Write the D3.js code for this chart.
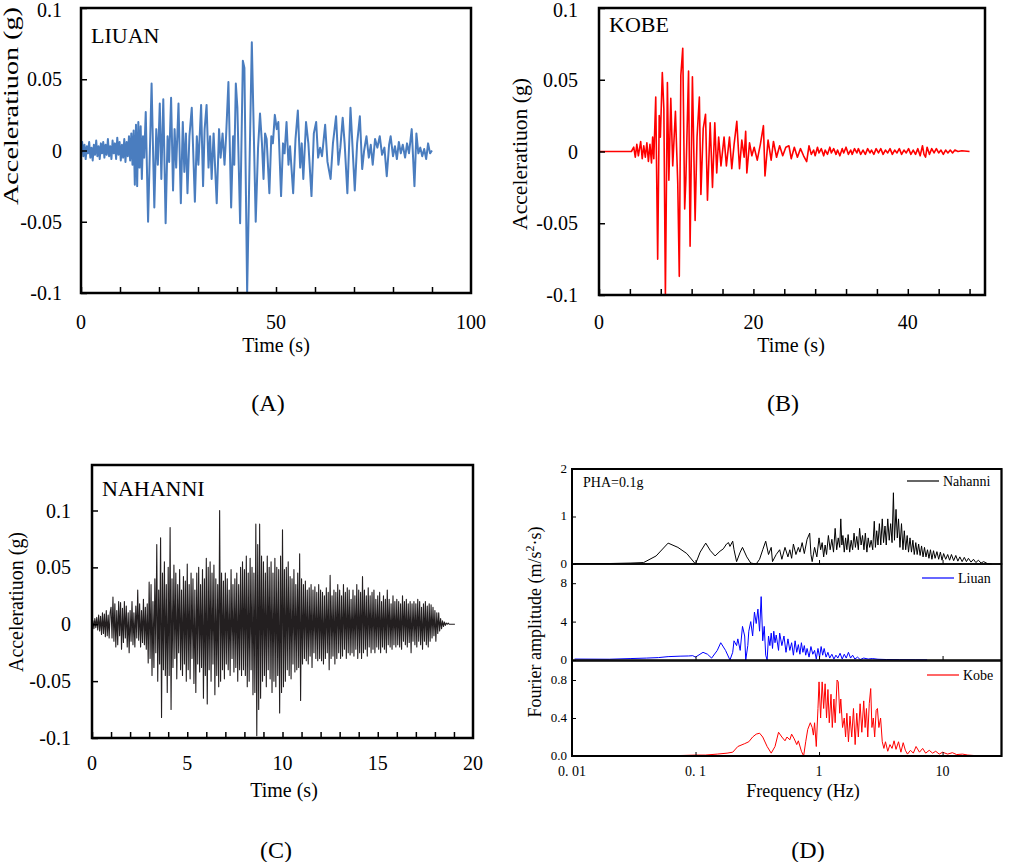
<!DOCTYPE html>
<html>
<head>
<meta charset="utf-8">
<script src="https://cdn.jsdelivr.net/npm/d3@7"></script>
<style>
	body { margin: 0; background: #fff; }
	svg { display: block; font-family: 'Liberation Serif', 'Times New Roman', serif; }
</style>
</head>
<body>
<div id="chart"></div>
<script>
//	Liuan record: [time (s), acceleration (g)] turning points
const liuanRecord = [
	[0,0],[0.3,0.006],[0.6,-0.004],[0.9,0.004],[1.2,-0.006],[1.5,0.003],[1.8,-0.002],[2.1,0.006],[2.4,-0.005],[2.7,0.002],
	[3.0,-0.007],[3.3,0.004],[3.6,-0.003],[3.9,0.007],[4.2,-0.004],[4.5,0.003],[4.8,-0.006],[5.1,0.005],[5.4,-0.002],[5.7,0.006],
	[6.0,-0.005],[6.3,0.004],[6.6,-0.003],[6.9,0.008],[7.2,-0.004],[7.5,0.003],[7.8,-0.006],[8.1,0.007],[8.4,-0.002],[8.7,0.005],
	[9.0,-0.006],[9.3,0.009],[9.6,-0.003],[9.9,0.006],[10.2,-0.007],[10.5,0.004],[10.8,-0.005],[11.1,0.008],[11.4,-0.008],[11.7,0.006],
	[12.0,-0.004],[12.3,0.010],[12.6,-0.007],[12.9,0.012],[13.2,-0.010],[13.5,0.014],[13.8,-0.024],[14.1,0.018],[14.4,-0.025],[14.7,0.020],
	[15.0,-0.012],[15.3,0.017],[15.6,-0.020],[15.9,0.010],[16.2,-0.005],[16.6,0.027],[17.2,-0.050],[18.1,0.047],[18.8,-0.040],[19.3,0.015],
	[19.7,-0.010],[20.2,0.033],[20.6,-0.020],[21.1,0.036],[21.7,-0.051],[22.2,0.010],[22.6,-0.008],[23.1,0.037],[23.6,-0.028],[24.0,0.015],
	[24.4,-0.012],[25.0,0.033],[25.6,-0.037],[26.1,0.020],[26.5,-0.015],[26.9,0.012],[27.3,-0.030],[27.8,0.010],[28.4,0.030],[29.2,-0.036],
	[29.7,0.010],[30.1,-0.010],[30.8,0.032],[31.3,-0.025],[31.7,0.015],[32.2,0.032],[32.7,-0.012],[33.1,0.010],[33.5,-0.020],[34.0,0.012],
	[34.8,-0.037],[35.4,0.015],[35.8,-0.005],[36.3,0.012],[36.8,-0.010],[37.2,0.010],[37.8,0.048],[38.5,-0.040],[39.0,0.010],[39.3,-0.010],
	[39.7,0.047],[40.1,0.030],[40.8,-0.051],[41.5,0.063],[41.9,0.058],[42.6,-0.100],[43.8,0.076],[44.8,-0.050],[45.4,0.002],[45.9,0.026],
	[46.4,0.005],[46.8,-0.020],[47.2,0.012],[47.6,0.008],[48.3,-0.030],[48.8,0.010],[49.2,0.005],[49.7,0.025],[50.2,0.015],[50.6,0.020],
	[51.3,-0.032],[51.8,0.005],[52.2,-0.002],[52.7,0.020],[53.2,-0.010],[53.6,0.003],[54.4,-0.030],[55.0,0.008],[55.6,0.028],[56.2,-0.012],
	[56.6,0.005],[57.0,-0.020],[57.7,0.020],[58.3,0.005],[59.1,-0.032],[59.7,0.012],[60.3,0.020],[60.8,-0.005],[61.3,0.002],[61.8,-0.004],
	[62.6,0.018],[63.2,-0.008],[64.0,-0.020],[64.6,0.005],[65.4,0.024],[66.0,-0.010],[66.5,0.002],[67.1,0.023],[67.6,0.005],[68.3,-0.030],
	[69.1,0.030],[70.2,-0.028],[70.8,0.005],[71.5,0.024],[72.1,-0.013],[72.6,0.000],[73.2,0.010],[73.8,-0.005],[74.3,0.004],[74.8,-0.010],
	[75.4,0.008],[76.0,0.002],[76.6,0.010],[77.2,-0.003],[77.8,0.002],[78.4,-0.018],[79.0,0.004],[79.4,0.010],[80.0,-0.004],[80.5,0.003],
	[81.0,-0.006],[81.5,0.006],[82.0,-0.002],[82.5,0.004],[83.1,-0.005],[83.6,0.005],[84.1,-0.002],[84.8,0.015],[85.5,-0.025],[86.0,0.012],
	[86.5,-0.002],[87.0,0.002],[87.5,-0.004],[88.0,0.001],[88.5,-0.006],[89.0,0.005],[89.5,-0.002],[90.0,0.000]
];

//	Kobe record: [time (s), acceleration (g)] turning points
const kobeRecord = [
	[0,0],[4.2,0],[4.5,0.003],[4.7,-0.004],[4.9,0.005],[5.1,-0.003],[5.4,0.007],[5.6,-0.005],[5.8,0.004],[6.0,-0.004],
	[6.2,0.006],[6.4,-0.007],[6.6,0.005],[6.8,-0.008],[6.95,0.010],[7.1,-0.005],[7.35,0.038],[7.6,-0.075],[7.8,0.025],[7.95,0.010],
	[8.2,0.055],[8.4,0.030],[8.6,-0.100],[8.86,0.048],[9.05,-0.020],[9.3,0.037],[9.55,-0.010],[9.9,0.028],[10.2,-0.022],[10.4,-0.087],
	[10.6,0.053],[10.85,0.072],[11.1,-0.040],[11.25,-0.020],[11.6,0.056],[11.8,-0.066],[12.1,0.052],[12.45,-0.048],[12.7,0.010],[13.0,0.038],
	[13.2,-0.030],[13.5,0.016],[13.8,0.026],[14.05,-0.034],[14.4,0.020],[14.7,-0.025],[15.0,0.020],[15.25,-0.015],[15.5,0.010],[15.8,-0.010],
	[16.2,0.010],[16.5,-0.010],[16.9,0.010],[17.2,-0.012],[17.5,0.005],[17.85,0.021],[18.2,-0.012],[18.5,0.008],[18.8,-0.004],[19.0,0.014],
	[19.15,-0.015],[19.5,0.006],[19.8,-0.003],[20.1,0.003],[20.5,-0.006],[20.9,0.005],[21.3,0.018],[21.5,-0.017],[21.9,0.008],[22.3,-0.006],
	[22.6,0.007],[23.0,-0.004],[23.4,0.004],[23.8,-0.003],[24.2,0.003],[24.6,0.004],[24.9,-0.005],[25.3,0.003],[25.7,-0.004],[26.1,0.002],
	[26.5,-0.003],[26.9,-0.007],[27.2,0.004],[27.5,-0.002],[27.8,0.001],[28.0,-0.003],[28.3,0.003],[28.5,-0.001],[28.8,0.002],[29.1,-0.003],
	[29.3,0.001],[29.6,-0.002],[29.9,0.003],[30.1,-0.001],[30.4,0.002],[30.7,-0.002],[30.9,0.001],[31.2,-0.003],[31.5,0.002],[31.7,-0.001],
	[32.0,0.003],[32.3,-0.002],[32.6,0.001],[32.8,-0.002],[33.1,0.002],[33.4,-0.001],[33.6,0.002],[33.9,-0.002],[34.2,0.001],[34.5,-0.002],
	[34.8,0.002],[35.1,-0.001],[35.3,0.001],[35.6,-0.002],[35.9,0.002],[36.2,-0.001],[36.5,0.002],[36.8,-0.002],[37.1,0.001],[37.4,-0.001],
	[37.7,0.002],[38.0,-0.002],[38.3,0.001],[38.6,-0.001],[38.9,0.002],[39.2,-0.002],[39.5,0.001],[39.8,-0.001],[40.1,0.002],[40.4,-0.002],
	[40.7,0.001],[41.0,-0.002],[41.3,0.002],[41.6,-0.003],[41.9,0.004],[42.1,-0.002],[42.3,-0.004],[42.5,0.003],[42.8,-0.002],[43.1,0.002],
	[43.4,-0.001],[43.7,0.002],[44.0,-0.001],[44.3,0.001],[44.6,-0.002],[44.9,0.001],[45.2,-0.001],[45.5,0.001],[45.8,-0.001],[46.1,0.001],
	[46.5,0],[47.0,0.0005],[48.0,0]
];

//	Nahanni record: acceleration (g) sampled every 0.05 s, one row per second
const nahanniStep = 0.05;
const nahanniAcc = [
	0,0.003,-0.004,0.005,-0.003,0.006,-0.005,0.008,-0.006,0.007,-0.009,0.010,-0.008,0.009,-0.011,0.012,-0.010,0.008,-0.012,0.010,
	0.015,-0.012,0.024,-0.015,0.018,-0.020,0.012,-0.018,0.020,-0.010,0.019,-0.022,0.014,-0.016,0.020,-0.012,0.016,-0.020,0.010,-0.025,
	0.012,-0.015,0.020,-0.018,0.010,-0.020,0.016,-0.012,0.030,-0.014,0.018,-0.020,0.012,-0.016,0.022,-0.018,0.015,-0.022,0.018,-0.034,
	0.037,-0.030,0.035,-0.045,0.020,-0.038,0.040,-0.025,0.070,-0.050,0.030,-0.035,0.076,-0.082,0.045,-0.040,0.055,-0.045,0.035,-0.060,
	0.050,-0.045,0.085,-0.075,0.040,-0.038,0.052,-0.030,0.045,-0.048,0.035,-0.025,0.048,-0.040,0.030,-0.045,0.042,-0.035,0.038,-0.050,
	0.053,-0.040,0.035,-0.048,0.045,-0.030,0.040,-0.052,0.030,-0.060,0.045,-0.035,0.050,-0.042,0.035,-0.038,0.048,-0.065,0.040,-0.045,
	0.058,-0.070,0.050,-0.040,0.055,-0.050,0.045,-0.035,0.052,-0.062,0.040,-0.045,0.035,-0.055,0.100,-0.050,0.045,-0.040,0.038,-0.048,
	0.045,-0.035,0.040,-0.040,0.030,-0.045,0.048,-0.030,0.035,-0.042,0.040,-0.038,0.045,-0.050,0.035,-0.040,0.050,-0.045,0.055,-0.040,
	0.048,-0.045,0.060,-0.055,0.045,-0.050,0.058,-0.040,0.050,-0.062,0.045,-0.060,0.088,-0.098,0.070,-0.075,0.088,-0.065,0.060,-0.050,
	0.055,-0.045,0.045,-0.055,0.060,-0.040,0.050,-0.048,0.055,-0.060,0.045,-0.050,0.058,-0.055,0.050,-0.045,0.048,-0.078,0.060,-0.060,
	0.083,-0.055,0.048,-0.050,0.050,-0.040,0.055,-0.045,0.042,-0.048,0.040,-0.035,0.048,-0.042,0.035,-0.040,0.045,-0.038,0.062,-0.067,
	0.040,-0.035,0.035,-0.030,0.038,-0.032,0.030,-0.035,0.032,-0.028,0.035,-0.038,0.030,-0.025,0.033,-0.030,0.028,-0.032,0.035,-0.030,
	0.030,-0.032,0.028,-0.035,0.025,-0.030,0.032,-0.025,0.028,-0.040,0.043,-0.030,0.025,-0.028,0.030,-0.035,0.028,-0.030,0.035,-0.025,
	0.030,-0.030,0.025,-0.028,0.035,-0.022,0.028,-0.030,0.032,-0.025,0.030,-0.027,0.022,-0.025,0.030,-0.028,0.025,-0.022,0.035,-0.030,
	0.030,-0.025,0.028,-0.030,0.042,-0.025,0.030,-0.022,0.025,-0.028,0.032,-0.020,0.025,-0.025,0.028,-0.022,0.030,-0.025,0.022,-0.020,
	0.025,-0.022,0.028,-0.025,0.020,-0.020,0.025,-0.022,0.022,-0.025,0.030,-0.018,0.022,-0.020,0.018,-0.022,0.025,-0.018,0.020,-0.020,
	0.022,-0.018,0.020,-0.020,0.018,-0.022,0.025,-0.015,0.020,-0.018,0.022,-0.020,0.018,-0.016,0.020,-0.025,0.018,-0.015,0.020,-0.018,
	0.018,-0.020,0.022,-0.015,0.020,-0.018,0.015,-0.022,0.018,-0.015,0.020,-0.018,0.016,-0.020,0.018,-0.015,0.017,-0.012,0.015,-0.010,
	0.012,-0.015,0.010,-0.008,0.010,-0.006,0.005,-0.004,0.003,-0.002,0.002,-0.001,0.001,0,0.001,0,0,0,0,0,
	0,0
];

//	Fourier spectra: [frequency (Hz), amplitude (m/s2·s)]
const nahanniSpectrum = [
	[0.0105,0.01],[0.02,0.01],[0.03,0.02],[0.038,0.03],[0.048,0.17],[0.060,0.44],[0.072,0.35],[0.085,0.22],[0.1,0.0],[0.109,0.25],
	[0.121,0.44],[0.132,0.28],[0.144,0.17],[0.158,0.27],[0.168,0.32],[0.178,0.42],[0.185,0.45],[0.19,0.37],[0.2,0.48],[0.205,0.30],
	[0.215,0.05],[0.23,0.25],[0.24,0.35],[0.26,0.15],[0.28,0.02],[0.31,0.0],[0.33,0.1],[0.35,0.3],[0.37,0.48],[0.39,0.2],
	[0.41,0.35],[0.42,0.05],[0.45,0.2],[0.48,0.3],[0.5,0.1],[0.53,0.35],[0.56,0.15],[0.58,0.3],[0.6,0.12],[0.62,0.42],
	[0.65,0.2],[0.68,0.35],[0.7,0.25],[0.73,0.45],[0.76,0.22],[0.8,0.52],[0.84,0.65],[0.86,0.2],[0.88,0.05],[0.92,0.35],
	[0.96,0.15],[1.0,0.55],[1.03,0.3],[1.06,0.45],[1.09,0.15],[1.12,0.4],[1.15,0.2],[1.19,0.6],[1.23,0.3],[1.27,0.52],
	[1.31,0.25],[1.35,0.75],[1.39,0.3],[1.43,0.55],[1.47,0.35],[1.5,0.95],[1.53,0.4],[1.56,0.6],[1.6,0.25],[1.64,0.55],
	[1.68,0.3],[1.72,0.62],[1.77,0.25],[1.82,0.5],[1.87,0.3],[1.92,0.65],[1.97,0.35],[2.02,0.58],[2.08,0.3],[2.13,0.75],
	[2.19,0.4],[2.25,0.6],[2.31,0.3],[2.37,0.65],[2.44,0.25],[2.5,0.55],[2.57,0.35],[2.64,0.5],[2.72,0.3],[2.8,0.9],
	[2.86,0.35],[2.93,0.7],[3.0,0.4],[3.08,0.85],[3.16,0.4],[3.25,0.95],[3.33,0.45],[3.42,0.8],[3.5,0.4],[3.6,0.95],
	[3.7,0.5],[3.8,0.85],[3.9,0.45],[4.0,1.5],[4.08,0.5],[4.2,1.15],[4.3,0.55],[4.4,0.95],[4.52,0.35],[4.65,0.85],
	[4.78,0.3],[4.9,0.7],[5.03,0.3],[5.17,0.6],[5.3,0.25],[5.45,0.55],[5.6,0.25],[5.75,0.5],[5.9,0.2],[6.07,0.45],
	[6.23,0.2],[6.4,0.42],[6.58,0.18],[6.76,0.38],[6.95,0.15],[7.14,0.35],[7.34,0.15],[7.55,0.3],[7.76,0.12],[7.98,0.3],
	[8.2,0.1],[8.45,0.28],[8.7,0.12],[9.0,0.26],[9.3,0.1],[9.6,0.25],[9.9,0.08],[10.2,0.22],[10.6,0.1],[11.0,0.2],
	[11.4,0.08],[11.8,0.2],[12.3,0.07],[12.8,0.18],[13.3,0.06],[13.8,0.15],[14.4,0.05],[15.0,0.14],[15.6,0.05],[16.2,0.12],
	[17.0,0.04],[17.8,0.1],[18.6,0.03],[19.5,0.08],[20.5,0.02],[21.5,0.05],[23,0.01],[25,0.0]
];

const liuanSpectrum = [
	[0.0105,0.1],[0.02,0.08],[0.03,0.15],[0.04,0.2],[0.05,0.25],[0.06,0.35],[0.075,0.4],[0.088,0.42],[0.095,0.45],[0.1,0.3],
	[0.115,0.8],[0.125,0.6],[0.135,0.2],[0.15,1.0],[0.16,1.8],[0.175,1.0],[0.19,0.0],[0.2,0.8],[0.205,2.0],[0.215,1.5],
	[0.22,2.2],[0.23,1.0],[0.24,3.5],[0.25,2.5],[0.255,0.0],[0.265,1.5],[0.27,3.0],[0.28,4.0],[0.29,2.5],[0.3,5.0],
	[0.31,3.8],[0.32,5.3],[0.33,3.0],[0.34,6.6],[0.35,2.0],[0.36,3.5],[0.37,0.5],[0.38,0.0],[0.39,2.5],[0.40,1.5],
	[0.41,2.8],[0.42,1.2],[0.43,3.0],[0.44,1.8],[0.45,2.6],[0.47,1.0],[0.48,2.8],[0.5,1.5],[0.52,2.5],[0.54,0.8],
	[0.56,2.2],[0.58,1.0],[0.6,1.8],[0.62,0.5],[0.64,2.0],[0.66,0.8],[0.68,1.6],[0.7,0.6],[0.72,1.8],[0.74,0.8],
	[0.76,1.5],[0.78,0.5],[0.8,1.2],[0.83,0.3],[0.86,1.4],[0.89,0.6],[0.92,1.0],[0.95,0.1],[0.98,1.2],[1.01,0.3],
	[1.04,1.4],[1.07,0.5],[1.1,1.2],[1.14,0.3],[1.18,0.8],[1.22,0.2],[1.27,0.6],[1.32,0.1],[1.37,0.5],[1.42,0.2],
	[1.48,0.7],[1.54,0.1],[1.6,0.6],[1.66,0.2],[1.73,0.8],[1.8,0.2],[1.87,0.5],[1.95,0.1],[2.05,0.3],[2.15,0.05],
	[2.3,0.2],[2.5,0.1],[2.7,0.15],[3.0,0.08],[3.5,0.05],[4.5,0.03],[6,0.02],[7.5,0.01]
];

const kobeSpectrum = [
	[0.0105,0.0],[0.06,0.002],[0.08,0.006],[0.1,0.01],[0.12,0.01],[0.15,0.02],[0.18,0.03],[0.2,0.04],[0.22,0.1],[0.25,0.13],
	[0.27,0.15],[0.29,0.2],[0.31,0.23],[0.33,0.24],[0.35,0.2],[0.38,0.1],[0.41,0.03],[0.44,0.1],[0.47,0.25],[0.5,0.2],
	[0.53,0.16],[0.55,0.2],[0.58,0.17],[0.6,0.23],[0.63,0.18],[0.66,0.12],[0.68,0.16],[0.72,0.05],[0.75,0.0],[0.78,0.15],
	[0.81,0.28],[0.85,0.35],[0.88,0.3],[0.9,0.22],[0.92,0.35],[0.95,0.1],[0.98,0.5],[1.0,0.78],[1.03,0.4],[1.06,0.78],
	[1.09,0.5],[1.12,0.76],[1.15,0.4],[1.18,0.7],[1.21,0.35],[1.25,0.65],[1.28,0.3],[1.32,0.6],[1.35,0.35],[1.4,0.8],
	[1.43,0.78],[1.47,0.45],[1.5,0.6],[1.55,0.3],[1.6,0.4],[1.64,0.2],[1.68,0.45],[1.73,0.15],[1.78,0.42],[1.84,0.2],
	[1.9,0.5],[1.96,0.12],[2.02,0.45],[2.08,0.2],[2.15,0.55],[2.22,0.25],[2.3,0.58],[2.36,0.3],[2.42,0.5],[2.48,0.2],
	[2.55,0.55],[2.62,0.71],[2.68,0.3],[2.75,0.4],[2.82,0.2],[2.9,0.48],[2.97,0.5],[3.05,0.3],[3.15,0.4],[3.25,0.15],
	[3.35,0.08],[3.45,0.15],[3.6,0.05],[3.75,0.12],[3.9,0.08],[4.05,0.16],[4.2,0.07],[4.4,0.15],[4.6,0.04],[4.8,0.14],
	[5.0,0.06],[5.2,0.02],[5.5,0.06],[5.8,0.03],[6.1,0.1],[6.5,0.04],[6.9,0.08],[7.3,0.03],[7.8,0.06],[8.3,0.03],
	[8.8,0.05],[9.4,0.02],[10,0.04],[11,0.02],[12,0.035],[13,0.015],[14.5,0.02],[16,0.01],[18,0.005],[20,0.002],[25,0]
];

//	tick values
const liuanTimeTicks = [0, 10, 20, 30, 40, 50, 60, 70, 80, 90];
const liuanTimeLabels = [0, 50, 100];
const kobeTimeTicks = [0, 4, 8, 12, 16, 20, 24, 28, 32, 36, 40, 44, 48];
const kobeTimeLabels = [0, 20, 40];
const nahanniTimeTicks = d3.range(0, 20, 1);
const nahanniTimeLabels = [0, 5, 10, 15, 20];
const accTicks = [-0.1, -0.05, 0, 0.05, 0.1];
const freqTicks = [0.01, 0.1, 1, 10];
const freqLabels = ['0. 01', '0. 1', '1', '10'];

const nahanniRecord = nahanniAcc.map((a, i) => [i * nahanniStep, a]);

const svg = d3.select('#chart')
	.append('svg')
	.attr('width', 1017)
	.attr('height', 862);

const fmtAcc = d => String(+d.toFixed(2));

//	one acceleration time-history panel
const drawTimePanel = (opt) => {
	const x = d3.scaleLinear().domain(opt.xDomain).range([opt.left, opt.right]);
	const y = d3.scaleLinear().domain(opt.yDomain).range([opt.bottom, opt.top]);
	const g = svg.append('g');

	g.append('path')
		.datum(opt.data)
		.attr('d', d3.line().x(d => x(d[0])).y(d => y(d[1])))
		.attr('fill', 'none')
		.attr('stroke', opt.color)
		.attr('stroke-width', opt.lineWidth)
		.attr('stroke-linejoin', 'round');

	//	ticks point inwards
	g.append('g')
		.attr('transform', 'translate(0,' + opt.bottom + ')')
		.call(d3.axisTop(x).tickValues(opt.xTicks).tickSize(6).tickFormat(''))
		.call(s => s.select('.domain').remove())
		.selectAll('line').attr('stroke-width', 1.5);
	g.append('g')
		.attr('transform', 'translate(' + opt.left + ',0)')
		.call(d3.axisRight(y).tickValues(accTicks).tickSize(6).tickFormat(''))
		.call(s => s.select('.domain').remove())
		.selectAll('line').attr('stroke-width', 1.5);

	g.selectAll('text.xl')
		.data(opt.xLabels)
		.enter()
		.append('text')
		.attr('x', d => x(d))
		.attr('y', opt.bottom + opt.xLabelGap)
		.attr('text-anchor', 'middle')
		.attr('font-size', 20)
		.text(d => d);
	//	the top label sits on the frame, nudge it so it stays inside the page
	g.selectAll('text.yl')
		.data(accTicks)
		.enter()
		.append('text')
		.attr('x', opt.yLabelRight)
		.attr('y', d => Math.max(y(d), 10))
		.attr('dy', '0.35em')
		.attr('text-anchor', 'end')
		.attr('font-size', 20)
		.text(fmtAcc);

	g.append('rect')
		.attr('x', opt.left)
		.attr('y', opt.top)
		.attr('width', opt.right - opt.left)
		.attr('height', opt.bottom - opt.top)
		.attr('fill', 'none')
		.attr('stroke', '#000')
		.attr('stroke-width', 2.5);

	g.append('text')
		.attr('x', opt.left + 10)
		.attr('y', opt.top + opt.titleDy)
		.attr('font-size', 22)
		.text(opt.title);

	g.append('text')
		.attr('transform', 'translate(' + opt.yTitleX + ',' + opt.yTitleY + ') rotate(-90)')
		.attr('text-anchor', 'middle')
		.attr('font-size', 20)
		.attr('textLength', opt.yTitleLength)
		.attr('lengthAdjust', 'spacingAndGlyphs')
		.text('Acceleratiuon (g)');

	g.append('text')
		.attr('x', opt.xTitleX)
		.attr('y', opt.xTitleY)
		.attr('text-anchor', 'middle')
		.attr('font-size', 20)
		.text('Time (s)');

	g.append('text')
		.attr('x', opt.xTitleX - 8)
		.attr('y', opt.tagY)
		.attr('text-anchor', 'middle')
		.attr('font-size', 24)
		.text(opt.tag);
};

drawTimePanel({
	data: liuanRecord, color: '#4a7dbf', lineWidth: 2,
	xDomain: [0, 100], yDomain: [-0.1, 0.1],
	left: 81, right: 471, top: 8, bottom: 293,
	xTicks: liuanTimeTicks, xLabels: liuanTimeLabels, xLabelGap: 36, yLabelRight: 62,
	title: 'LIUAN', titleDy: 35,
	yTitleX: 18, yTitleY: 106, yTitleLength: 198,
	xTitleX: 276, xTitleY: 352, tag: '(A)', tagY: 411
});

drawTimePanel({
	data: kobeRecord, color: '#ff0000', lineWidth: 1.6,
	xDomain: [0, 50], yDomain: [-0.1, 0.1],
	left: 599, right: 985, top: 8, bottom: 295,
	xTicks: kobeTimeTicks, xLabels: kobeTimeLabels, xLabelGap: 34, yLabelRight: 578,
	title: 'KOBE', titleDy: 24,
	yTitleX: 527, yTitleY: 154, yTitleLength: 152,
	xTitleX: 791, xTitleY: 352, tag: '(B)', tagY: 411
});

drawTimePanel({
	data: nahanniRecord, color: '#231f20', lineWidth: 1.1,
	xDomain: [0, 20], yDomain: [-0.1, 0.14],
	left: 92, right: 473, top: 465, bottom: 738,
	xTicks: nahanniTimeTicks, xLabels: nahanniTimeLabels, xLabelGap: 32, yLabelRight: 71,
	title: 'NAHANNI', titleDy: 31,
	yTitleX: 23, yTitleY: 602, yTitleLength: 140,
	xTitleX: 284, xTitleY: 797, tag: '(C)', tagY: 858
});

//	Fourier spectra, three stacked panels on a log frequency axis
const drawSpectra = () => {
	const fx = d3.scaleLog().domain([0.01, 30]).range([572, 1001.5]);
	const panels = [
		{ data: nahanniSpectrum, color: '#000', top: 469, bottom: 564, domain: [0, 2], ticks: [0, 1, 2], fmt: d => d, name: 'Nahanni', legendY: 481, legendX: 907 },
		{ data: liuanSpectrum, color: '#0000ff', top: 564, bottom: 660, domain: [0, 10], ticks: [0, 4, 8], fmt: d => d, name: 'Liuan', legendY: 578, legendX: 922 },
		{ data: kobeSpectrum, color: '#ff0000', top: 661, bottom: 756, domain: [0, 1], ticks: [0, 0.4, 0.8], fmt: d3.format('.1f'), name: 'Kobe', legendY: 675, legendX: 927 }
	];
	const g = svg.append('g');

	panels.forEach(p => {
		const y = d3.scaleLinear().domain(p.domain).range([p.bottom, p.top]);
		const sub = g.append('g');
		sub.append('path')
			.datum(p.data)
			.attr('d', d3.line().x(d => fx(d[0])).y(d => y(d[1])))
			.attr('fill', 'none')
			.attr('stroke', p.color)
			.attr('stroke-width', 1);
		sub.append('g')
			.attr('transform', 'translate(572,0)')
			.call(d3.axisRight(y).tickValues(p.ticks).tickSize(4).tickFormat(''))
			.call(s => s.select('.domain').remove());
		sub.append('g')
			.attr('transform', 'translate(0,' + p.bottom + ')')
			.call(d3.axisTop(fx).tickValues(freqTicks.slice(1)).tickSize(4).tickFormat(''))
			.call(s => s.select('.domain').remove());
		sub.selectAll('text.yl')
			.data(p.ticks)
			.enter()
			.append('text')
			.attr('x', 567)
			.attr('y', d => y(d))
			.attr('dy', '0.3em')
			.attr('text-anchor', 'end')
			.attr('font-size', 13)
			.text(p.fmt);
		sub.append('rect')
			.attr('x', 572)
			.attr('y', p.top)
			.attr('width', 1001.5 - 572)
			.attr('height', p.bottom - p.top)
			.attr('fill', 'none')
			.attr('stroke', '#000')
			.attr('stroke-width', 1.5);
		//	legend
		sub.append('line')
			.attr('x1', p.legendX).attr('x2', p.legendX + 32)
			.attr('y1', p.legendY).attr('y2', p.legendY)
			.attr('stroke', p.color)
			.attr('stroke-width', 1.2);
		sub.append('text')
			.attr('x', p.legendX + 36)
			.attr('y', p.legendY)
			.attr('dy', '0.35em')
			.attr('font-size', 14)
			.text(p.name);
	});

	//	outer frame
	g.append('rect')
		.attr('x', 572).attr('y', 469)
		.attr('width', 1001.5 - 572).attr('height', 756 - 469)
		.attr('fill', 'none')
		.attr('stroke', '#000')
		.attr('stroke-width', 2);

	g.selectAll('text.xl')
		.data(freqTicks)
		.enter()
		.append('text')
		.attr('x', d => fx(d))
		.attr('y', 776)
		.attr('text-anchor', 'middle')
		.attr('font-size', 14)
		.text((d, i) => freqLabels[i]);

	g.append('text')
		.attr('x', 583).attr('y', 487)
		.attr('font-size', 14)
		.text('PHA=0.1g');

	g.append('text')
		.attr('x', 803).attr('y', 797)
		.attr('text-anchor', 'middle')
		.attr('font-size', 18)
		.text('Frequency (Hz)');

	const yTitle = g.append('text')
		.attr('transform', 'translate(541,622) rotate(-90)')
		.attr('text-anchor', 'middle')
		.attr('font-size', 18);
	yTitle.append('tspan').text('Fourier amplitude (m/s');
	yTitle.append('tspan').attr('baseline-shift', 'super').attr('font-size', 12).text('2');
	yTitle.append('tspan').text('·s)');

	g.append('text')
		.attr('x', 808).attr('y', 858)
		.attr('text-anchor', 'middle')
		.attr('font-size', 24)
		.text('(D)');
};

drawSpectra();
</script>
</body>
</html>
